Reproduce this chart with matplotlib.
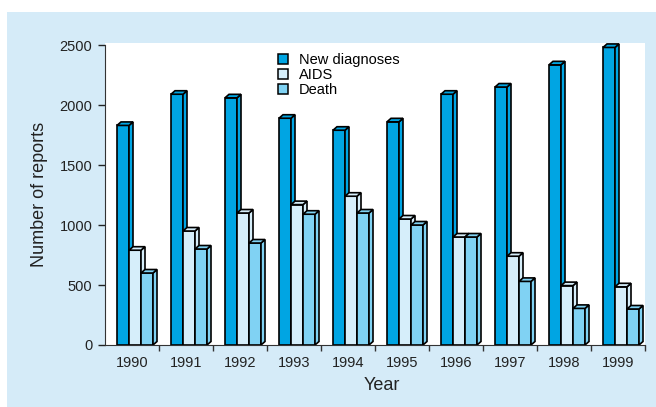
import numpy as np
import matplotlib
matplotlib.use("Agg")
import matplotlib.pyplot as plt
from matplotlib.patches import Polygon, Rectangle, Patch

plt.rcParams['font.family'] = ['Liberation Sans', 'DejaVu Sans']

# Data
years = ['1990', '1991', '1992', '1993', '1994', '1995', '1996', '1997', '1998', '1999']
new_diagnoses = [1830, 2090, 2060, 1890, 1790, 1860, 2090, 2150, 2335, 2480]
aids = [790, 950, 1100, 1170, 1240, 1050, 900, 740, 495, 485]
deaths = [600, 800, 850, 1090, 1100, 1000, 900, 530, 305, 300]

series = [
    ('New diagnoses', new_diagnoses, '#00a5e3'),
    ('AIDS', aids, '#d6eefa'),
    ('Death', deaths, '#80d2f3'),
]

PANEL = '#d5ebf8'

fig = plt.figure(figsize=(6.56, 4.07), dpi=100)
fig.patch.set_facecolor('white')
fig.patches.append(Rectangle((7 / 656, 0), 1, (407 - 12) / 407,
                             transform=fig.transFigure, facecolor=PANEL,
                             edgecolor='none', zorder=-10))

ax = fig.add_axes([105 / 656, 62 / 407, 540 / 656, (345 - 43) / 407])
ax.set_facecolor('white')

x = np.arange(len(years))
ax.set_xlim(-0.5, len(years) - 0.5)
ax.set_ylim(0, 2517)

# bar geometry (in group units)
bar_w = 12 / 54
offset0 = -0.5 + 12 / 54

# 3D depth: ~4 px right, ~3.5 px up -> convert to data units
fig.canvas.draw()
inv = ax.transData.inverted()
p0 = inv.transform(ax.transData.transform((0, 0)))
p1 = inv.transform(ax.transData.transform((0, 0)) + np.array([4.0, 3.5]))
dx, dy = p1 - p0

for k, (name, vals, col) in enumerate(series):
    lefts = x + offset0 + k * bar_w
    ax.bar(lefts, vals, width=bar_w, align='edge', color=col,
           edgecolor='black', linewidth=1.2, zorder=2 + k)
    for l, v in zip(lefts, vals):
        r = l + bar_w
        side = Polygon([(r, 0), (r + dx, dy), (r + dx, v + dy), (r, v)],
                       closed=True, facecolor=col, edgecolor='black',
                       linewidth=1.2, zorder=2 + k)
        top = Polygon([(l, v), (l + dx, v + dy), (r + dx, v + dy), (r, v)],
                      closed=True, facecolor=col, edgecolor='black',
                      linewidth=1.2, zorder=2 + k)
        ax.add_patch(side)
        ax.add_patch(top)

# axes styling
for s in ['top', 'right']:
    ax.spines[s].set_visible(False)
ax.spines['left'].set_bounds(0, 2500)
ax.spines['left'].set_color('#333333')
ax.spines['bottom'].set_color('#333333')

ax.set_yticks([0, 500, 1000, 1500, 2000, 2500])
ax.tick_params(axis='y', direction='out', length=5, width=1, pad=4,
               labelsize=10.5, colors='#222222')
ax.set_xticks(x)
ax.set_xticklabels(years)
ax.tick_params(axis='x', which='major', length=0, pad=8, labelsize=10.5,
               colors='#222222')
ax.set_xticks(list(x[:-1] + 0.5) + [len(years) - 0.5], minor=True)
ax.tick_params(axis='x', which='minor', direction='out', length=4, width=1,
               color='#333333')

ax.set_ylabel('Number of reports', fontsize=13, color='#222222')
ax.yaxis.set_label_coords(-0.105, 0.5)
ax.set_xlabel('Year', fontsize=13, color='#222222')
ax.xaxis.set_label_coords(0.513, -0.105)

handles = [Patch(facecolor=c, edgecolor='black', linewidth=1.1, label=n)
           for n, _, c in series]
ax.legend(handles=handles, loc='upper left', bbox_to_anchor=(0.31, 0.985),
          frameon=False, fontsize=10.5, handlelength=0.65, handleheight=0.65,
          handletextpad=0.75, labelspacing=0.05, borderaxespad=0)

fig.savefig('out.png', dpi=100, facecolor=fig.get_facecolor())
